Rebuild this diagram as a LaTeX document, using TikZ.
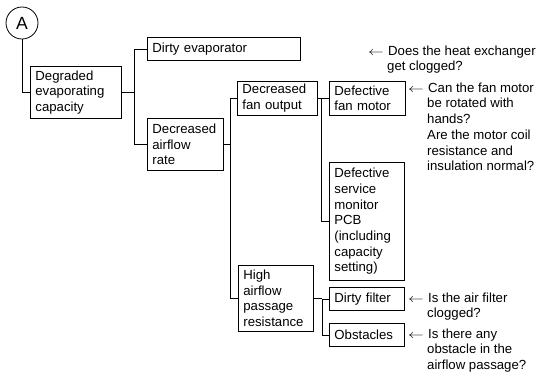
\documentclass[tikz,border=0pt]{standalone}
\usepackage{fontspec}
\setmainfont{Liberation Sans}
\usepackage{graphicx}
\newcommand\fs{\fontsize{13.2}{15.7}\selectfont}
\newcommand\larr{\makebox[20pt][l]{\scalebox{1.3}[1]{$\leftarrow$}}}
\newcommand\ind{\hspace*{19pt}}
\begin{document}
\begin{tikzpicture}[x=1pt,y=-1pt,
  box/.style={draw, line width=0.8pt, anchor=north west, inner xsep=5pt, inner ysep=0pt, align=left, font=\fs},
  ann/.style={anchor=north west, inner sep=0pt, align=left, font=\fs},
  conn/.style={line width=0.8pt}]
\useasboundingbox (0,0) rectangle (536,373);

\node[draw, circle, line width=0.8pt, minimum size=32pt, inner sep=0pt, font=\fontsize{17.6}{20}\selectfont] (A) at (22,23) {A};

\node[box, text width=81pt, minimum height=52pt] (deg) at (30,66) {Degraded\\evaporating\\capacity};
\node[box, text width=143pt, minimum height=23pt] (de) at (147,37) {Dirty evaporator};
\node[box, text width=66pt, minimum height=52pt] (dar) at (147,118) {Decreased\\airflow\\rate};
\node[box, text width=70pt, minimum height=34pt] (dfo) at (237,81) {Decreased\\fan output};
\node[box, text width=66pt, minimum height=34pt] (dfm) at (329,81) {Defective\\fan motor};
\node[box, text width=65pt, minimum height=118pt] (dsm) at (329,162) {Defective\\service\\monitor\\PCB\\(including\\capacity\\setting)};
\node[box, text width=65pt, minimum height=66pt] (hapr) at (238,265) {High\\airflow\\passage\\resistance};
\node[box, text width=65pt, minimum height=23pt] (df) at (329,287) {Dirty filter};
\node[box, text width=65pt, minimum height=23pt] (obs) at (329,323) {Obstacles};

\coordinate (b1) at (134,0);
\coordinate (b2) at (230,0);
\coordinate (b3) at (321,0);
\coordinate (b4) at (322,0);

\draw[conn] (A.south) |- (deg.west);
\draw[conn] (deg.east) -- (deg.east -| b1);
\draw[conn] (de.west) -| (b1 |- dar.west) -- (dar.west);
\draw[conn] (dar.east) -- (dar.east -| b2);
\draw[conn] (dfo.west) -| (b2 |- hapr.west) -- (hapr.west);
\draw[conn] (dfo.east) -- (dfo.east -| b3);
\draw[conn] (dfm.west) -| (b3 |- dsm.west) -- (dsm.west);
\draw[conn] (hapr.east) -- (hapr.east -| b4);
\draw[conn] (df.west) -| (b4 |- obs.west) -- (obs.west);

\node[ann] (n1) at (368,45.5) {\larr Does the heat exchanger\\\ind get clogged?};
\node[ann] (n2) at (408,82.5) {\larr Can the fan motor\\\ind be rotated with\\\ind hands?\\\ind Are the motor coil\\\ind resistance and\\\ind insulation normal?};
\node[ann] (n3) at (408,292.5) {\larr Is the air filter\\\ind clogged?};
\node[ann] (n4) at (408,328.5) {\larr Is there any\\\ind obstacle in the\\\ind airflow passage?};
\end{tikzpicture}
\end{document}
